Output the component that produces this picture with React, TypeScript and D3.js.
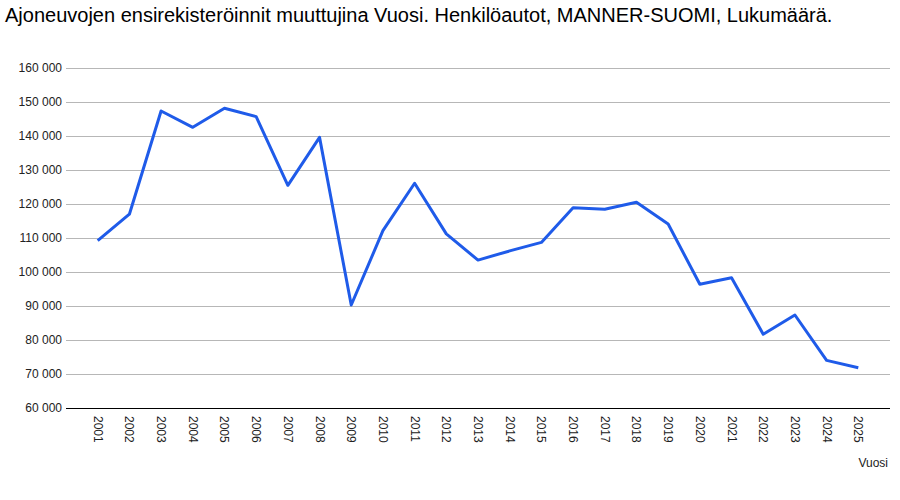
import React from "react";
import * as d3 from "d3";

const years = ["2001","2002","2003","2004","2005","2006","2007","2008","2009","2010","2011","2012","2013","2014","2015","2016","2017","2018","2019","2020","2021","2022","2023","2024","2025"];
const values = [109200,117000,147350,142550,148140,145700,125500,139600,90300,112150,126100,111200,103500,106200,108700,118900,118450,120500,114100,96400,98300,81700,87350,74000,71850];
const yTicks = [60000,70000,80000,90000,100000,110000,120000,130000,140000,150000,160000];
const title = "Ajoneuvojen ensirekisteröinnit muuttujina Vuosi. Henkilöautot, MANNER-SUOMI, Lukumäärä.";
const xTitle = "Vuosi";

const W = 900, H = 500;
const gridLeft = 66, gridRight = 890;

export default function App() {
  const x = d3.scalePoint<string>().domain(years).range([97.7, 858.3]);
  const y = d3.scaleLinear().domain([60000, 160000]).range([408, 68]);
  const fmt = (v: number) => d3.format(",")(v).replace(/,/g, " ");
  const line = d3.line<number>().x((_, i) => x(years[i])!).y(d => y(d));
  const font = "Arial, 'Liberation Sans', sans-serif";
  return (
    <svg width={W} height={H} style={{ position: "absolute", left: 0, top: 0, background: "#fff" }} fontFamily={font}>
      <rect width={W} height={H} fill="#fff" />
      <text x={5} y={22} fontSize={20} fill="#000">{title}</text>
      {yTicks.map(t => (
        <g key={t}>
          {t !== 60000 && <line x1={gridLeft} x2={gridRight} y1={Math.round(y(t)) + 0.5} y2={Math.round(y(t)) + 0.5} stroke="#b7b7b7" strokeWidth={1} />}
          <text x={62} y={y(t) + 4} fontSize={12} textAnchor="end" fill="#222">{fmt(t)}</text>
        </g>
      ))}
      <line x1={gridLeft} x2={gridRight} y1={408.5} y2={408.5} stroke="#000" strokeWidth={1} />
      {years.map(yr => (
        <text key={yr} transform={`translate(${x(yr)! - 4},416) rotate(90)`} fontSize={12} fill="#222" textAnchor="start">{yr}</text>
      ))}
      <text x={888} y={467} fontSize={12} textAnchor="end" fill="#222">{xTitle}</text>
      <path d={line(values)!} fill="none" stroke="#1f5be9" strokeWidth={3} strokeLinejoin="round" />
    </svg>
  );
}
